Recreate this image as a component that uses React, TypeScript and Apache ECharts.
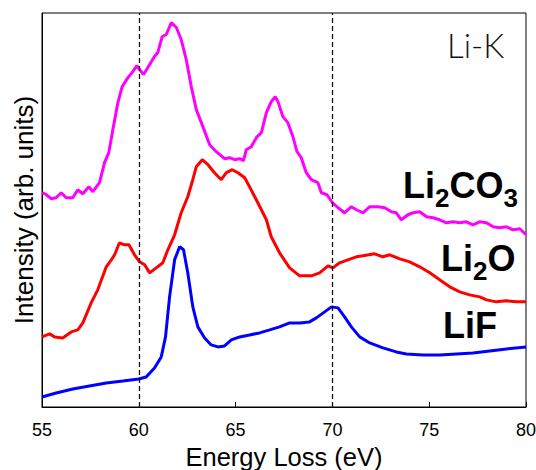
import React, { useEffect, useRef } from "react";
import * as echarts from "echarts";

const xTickValues = [55, 60, 65, 70, 75, 80];
const referenceLines = [60, 70];

const energyLi2CO3 = [55.0, 55.22, 55.48, 55.73, 55.99, 56.25, 56.59, 56.85, 57.11, 57.42, 57.63, 57.97, 58.23, 58.45, 58.66, 58.92, 59.14, 59.44, 59.69, 59.9, 60.04, 60.25, 60.47, 60.81, 60.98, 61.21, 61.42, 61.68, 61.94, 62.19, 62.45, 62.71, 62.97, 63.31, 63.66, 64.0, 64.43, 64.69, 64.95, 65.21, 65.41, 65.55, 65.81, 66.07, 66.33, 66.59, 66.84, 67.05, 67.19, 67.44, 67.7, 67.96, 68.17, 68.39, 68.65, 68.91, 69.25, 69.43, 69.72, 70.0, 70.29, 70.63, 70.98, 71.24, 71.58, 71.93, 72.35, 72.7, 73.05, 73.3, 73.56, 73.9, 74.16, 74.51, 74.86, 75.2, 75.54, 75.89, 76.23, 76.58, 76.92, 77.26, 77.61, 77.96, 78.3, 78.64, 78.99, 79.33, 79.68, 80.0];
const intensityLi2CO3 = [214, 212, 208, 209, 214, 209, 209, 217, 213, 220, 215, 224, 244, 254, 277, 304, 320, 329, 335, 341, 337, 332, 339, 350, 354, 370, 372, 384, 379, 367, 347, 320, 297, 280, 262, 255, 248, 249, 247, 248, 246, 257, 260, 269, 274, 294, 305, 310, 305, 290, 284, 270, 255, 249, 234, 227, 224, 214, 212, 204, 199, 194, 200, 197, 194, 200, 200, 199, 195, 194, 187, 192, 194, 195, 190, 189, 187, 184, 185, 184, 185, 182, 185, 184, 180, 179, 180, 177, 178, 172];

const energyLi2O = [55.0, 55.39, 55.65, 56.07, 56.51, 56.85, 57.11, 57.54, 57.88, 58.32, 58.58, 58.75, 59.0, 59.26, 59.49, 59.78, 60.04, 60.3, 60.56, 60.9, 61.24, 61.5, 61.85, 62.19, 62.53, 62.79, 62.97, 63.28, 63.57, 63.91, 64.26, 64.52, 64.83, 65.12, 65.47, 65.72, 66.07, 66.33, 66.59, 66.84, 67.27, 67.79, 68.31, 68.91, 69.34, 69.77, 70.03, 70.37, 70.8, 71.24, 71.58, 72.18, 72.61, 72.96, 73.48, 73.99, 74.51, 75.03, 75.54, 76.06, 76.58, 77.09, 77.61, 77.96, 78.47, 78.99, 79.51, 80.0];
const intensityLi2O = [70, 73, 70, 69, 75, 77, 84, 104, 117, 140, 147, 152, 164, 162, 162, 152, 145, 142, 134, 139, 144, 157, 172, 194, 210, 227, 240, 247, 242, 234, 227, 234, 237, 234, 229, 220, 207, 197, 187, 170, 154, 139, 131, 131, 134, 141, 139, 144, 147, 150, 151, 153, 150, 152, 148, 145, 140, 134, 127, 120, 115, 112, 110, 107, 105, 106, 105, 105];

const energyLiF = [55.0, 55.73, 56.59, 57.45, 58.32, 59.18, 60.0, 60.38, 60.81, 61.16, 61.38, 61.59, 61.85, 62.11, 62.31, 62.53, 62.79, 63.05, 63.4, 63.74, 64.09, 64.43, 64.78, 65.21, 65.72, 66.24, 66.76, 67.27, 67.79, 68.31, 68.82, 69.17, 69.6, 69.95, 70.29, 70.63, 70.98, 71.41, 71.93, 72.61, 73.3, 73.82, 74.68, 75.54, 76.41, 77.26, 78.13, 78.99, 80.0];
const intensityLiF = [10, 14, 18, 21, 24, 26, 28, 30, 39, 50, 70, 110, 147, 160, 157, 134, 100, 80, 69, 62, 60, 61, 67, 70, 72, 74, 77, 80, 84, 84, 85, 89, 95, 100, 99, 90, 80, 70, 64, 59, 55, 53, 52, 52, 53, 54, 56, 58, 60];

const zip = (xs: number[], ys: number[]) => xs.map((x, i) => [x, ys[i]]);

const FONT = "'Liberation Sans', Arial, Helvetica, sans-serif";
const MAIN = 36;
const SUB = 26;

// Each label: list of [text, isSubscript]
const compoundLabels: { parts: [string, boolean][]; x: number; baseline: number }[] = [
  { parts: [["Li", false], ["2", true], ["CO", false], ["3", true]], x: 403, baseline: 200 },
  { parts: [["Li", false], ["2", true], ["O", false]], x: 441, baseline: 273 },
  { parts: [["LiF", false]], x: 443, baseline: 340 },
];

// Liberation Sans Bold advance widths (em)
const ADV: Record<string, number> = { L: 0.611, i: 0.278, C: 0.722, O: 0.778, F: 0.611, "2": 0.556, "3": 0.556 };
const textWidth = (s: string, size: number) => s.split("").reduce((w, c) => w + (ADV[c] ?? 0.6) * size, 0);

function buildLabelGraphics() {
  const out: any[] = [];
  compoundLabels.forEach((lab) => {
    let x = lab.x;
    lab.parts.forEach(([t, sub]) => {
      const size = sub ? SUB : MAIN;
      const base = sub ? lab.baseline + 9 : lab.baseline;
      out.push({
        type: "text",
        x,
        y: base - 0.905 * size,
        z: 100,
        style: {
          text: t, fontSize: size, fontWeight: "bold", fontFamily: FONT,
          fill: "#000", align: "left", verticalAlign: "top",
        },
      });
      x += textWidth(t, size);
    });
  });
  return out;
}

export default function App() {
  const ref = useRef<HTMLDivElement>(null);
  useEffect(() => {
    const chart = echarts.init(ref.current!, null, { renderer: "svg" });
    chart.setOption({
      animation: false,
      backgroundColor: "#fff",
      textStyle: { fontFamily: FONT },
      grid: {
        left: 42, right: 10, top: 13, bottom: 63,
        outerBoundsMode: "none",
        containLabel: false,
        show: true, borderColor: "#000", borderWidth: 1, backgroundColor: "transparent",
      },
      xAxis: {
        type: "value",
        min: 55, max: 80, interval: 5,
        name: "Energy Loss (eV)",
        nameLocation: "middle",
        nameGap: 30,
        nameTextStyle: { fontSize: 25.5, color: "#000", fontFamily: FONT },
        axisLine: { show: true, lineStyle: { color: "#000", width: 1 } },
        axisTick: { show: true, inside: true, length: 5, lineStyle: { color: "#000" } },
        axisLabel: {
          fontSize: 18, color: "#000", margin: 14, fontFamily: FONT,
          formatter: (v: number) => (xTickValues.includes(v) ? String(v) : ""),
        },
        splitLine: { show: false },
      },
      yAxis: {
        type: "value",
        min: 0, max: 393.5,
        name: "Intensity (arb. units)",
        nameLocation: "middle",
        nameGap: 5,
        nameTextStyle: { fontSize: 26, color: "#000", fontFamily: FONT },
        axisLine: { show: true, lineStyle: { color: "#000", width: 1 } },
        axisTick: { show: false },
        axisLabel: { show: false },
        splitLine: { show: false },
      },
      series: [
        {
          name: "Li2CO3", type: "line", showSymbol: false,
          data: zip(energyLi2CO3, intensityLi2CO3),
          lineStyle: { color: "#ff00ff", width: 3 }, itemStyle: { color: "#ff00ff" },
        },
        {
          name: "Li2O", type: "line", showSymbol: false,
          data: zip(energyLi2O, intensityLi2O),
          lineStyle: { color: "#ff0000", width: 3 }, itemStyle: { color: "#ff0000" },
        },
        {
          name: "LiF", type: "line", showSymbol: false,
          data: zip(energyLiF, intensityLiF),
          lineStyle: { color: "#0000ff", width: 3 }, itemStyle: { color: "#0000ff" },
          markLine: {
            silent: true, symbol: "none", label: { show: false },
            lineStyle: { color: "#111", type: [5, 3], width: 1.3 },
            data: referenceLines.map((v) => ({ xAxis: v })),
          },
        },
      ],
      graphic: [
        ...buildLabelGraphics(),
        {
          type: "text", x: 447, y: 28, z: 100,
          style: {
            text: "Li-K", fontSize: 33, fontWeight: 300, fontFamily: "Lato, 'Open Sans', sans-serif",
            fill: "#111", align: "left", verticalAlign: "top",
          },
        },
      ],
    });
    return () => chart.dispose();
  }, []);
  return (
    <div
      ref={ref}
      style={{ position: "fixed", left: 0, top: 0, width: 536, height: 470, background: "#fff" }}
    />
  );
}
